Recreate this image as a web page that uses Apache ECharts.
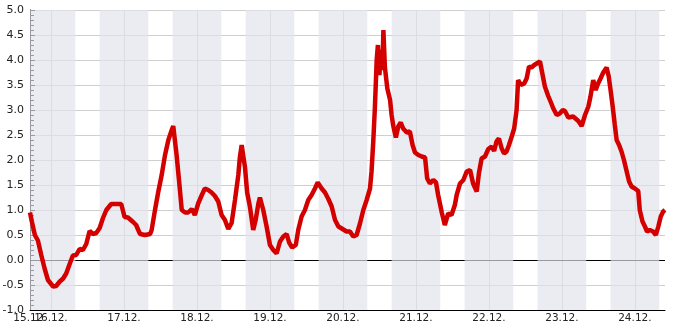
<!DOCTYPE html>
<html><head><meta charset="utf-8">
<script src="https://cdn.jsdelivr.net/npm/echarts@6/dist/echarts.min.js"></script>
<style>html,body{margin:0;padding:0;background:#fff}#c{width:685px;height:330px}</style>
</head><body><div id="c"></div>
<script>
// hours since 16.12. 00:00
const hours = [
-6.9,-6.3,-5.3,-4.3,-3.2,-2.1,-1.0,0.7,1.7,2.9,
4.0,5.0,6.2,7.2,8.3,9.4,10.5,11.6,12.7,13.8,
14.9,16.0,17.1,18.2,19.8,21.5,23.1,24.2,25.3,27.0,
28.0,28.7,29.3,30.9,32.6,33.1,34.2,35.3,36.4,37.5,
38.6,39.7,40.2,41.3,42.2,43.0,44.1,45.1,46.3,47.3,
48.4,49.6,50.6,51.7,52.8,53.9,55.0,56.1,57.2,58.3,
59.4,60.5,61.6,62.1,62.7,63.1,63.8,64.5,65.4,66.5,
67.3,68.2,68.7,69.8,70.9,72.0,73.1,74.2,75.3,76.4,
77.5,78.3,79.3,80.5,81.3,82.4,83.5,84.6,85.7,86.8,
87.7,89.0,90.1,91.2,92.3,93.4,94.5,95.6,97.2,98.3,
99.4,100.5,101.6,102.7,103.8,104.9,105.4,106.0,106.5,107.1,
107.5,108.0,108.5,109.0,109.3,109.8,110.6,111.5,112.0,112.5,
113.4,114.2,115.0,115.8,117.0,118.0,118.9,119.7,120.8,121.9,
123.0,123.7,124.6,125.7,126.6,127.3,128.5,129.5,130.6,131.7,
132.8,133.4,134.5,135.6,136.7,137.8,138.8,140.0,140.7,141.6,
142.7,143.8,144.9,145.7,146.5,147.3,148.2,149.0,149.8,150.6,
151.5,152.3,153.1,153.6,154.5,155.6,156.4,157.2,158.0,158.9,
159.7,160.8,161.5,162.4,163.5,164.6,165.1,166.3,167.3,168.3,
169.0,170.1,171.7,173.4,174.5,175.6,176.7,177.4,178.3,179.1,
179.9,180.7,181.6,182.7,183.4,184.0,184.7,185.4,186.0,186.8,
187.6,188.4,189.3,190.1,190.9,192.0,193.1,193.6,194.5,195.3,
196.0,196.9,198.0,198.9,199.7,200.5,201.3,201.9
];
const values = [
0.95,0.77,0.5,0.39,0.1,-0.17,-0.4,-0.53,-0.52,-0.43,
-0.37,-0.27,-0.07,0.09,0.1,0.22,0.2,0.32,0.58,0.52,
0.54,0.64,0.84,1.0,1.12,1.12,1.12,0.86,0.85,0.76,
0.7,0.6,0.52,0.5,0.52,0.6,1.0,1.37,1.7,2.1,
2.4,2.6,2.68,2.1,1.53,1.0,0.95,0.95,1.02,0.9,
1.13,1.3,1.43,1.4,1.35,1.28,1.17,0.9,0.8,0.62,
0.74,1.2,1.7,2.05,2.3,2.3,1.85,1.35,1.07,0.6,
0.8,1.13,1.25,1.0,0.67,0.3,0.2,0.13,0.37,0.47,
0.52,0.35,0.25,0.3,0.6,0.87,1.0,1.2,1.3,1.43,
1.55,1.43,1.35,1.22,1.07,0.8,0.67,0.63,0.57,0.57,
0.47,0.5,0.73,1.0,1.2,1.43,1.77,2.4,3.04,4.0,
4.3,3.7,4.2,3.8,4.6,3.85,3.43,3.2,2.9,2.7,
2.45,2.67,2.75,2.63,2.55,2.57,2.3,2.15,2.1,2.07,
2.05,1.63,1.53,1.6,1.55,1.3,0.95,0.7,0.93,0.9,
1.1,1.3,1.53,1.6,1.77,1.8,1.53,1.37,1.73,2.03,
2.07,2.22,2.27,2.18,2.37,2.43,2.23,2.13,2.17,2.3,
2.47,2.63,3.0,3.6,3.5,3.53,3.63,3.87,3.85,3.9,
3.93,3.97,3.75,3.47,3.28,3.12,3.04,2.9,2.93,3.0,
2.98,2.85,2.87,2.78,2.68,2.9,3.07,3.27,3.6,3.4,
3.53,3.63,3.75,3.85,3.67,3.4,3.07,2.7,2.4,2.3,
2.17,2.0,1.77,1.57,1.47,1.43,1.38,1.0,0.77,0.67,
0.57,0.6,0.57,0.5,0.67,0.87,0.97,1.0
];
const startHour = -6.9;
const endHour = 201.9;
const startLabel = '15.12.';
const dayTickHours = [0,24,48,72,96,120,144,168,192];
const dayLabels = ['16.12.','17.12.','18.12.','19.12.','20.12.','21.12.','22.12.','23.12.','24.12.'];
const nightBands = [[-8,8],[16,32],[40,56],[64,80],[88,104],[112,128],[136,152],[160,176],[184,200]];

const lineData = hours.map((h,i)=>[h, values[i]]);
const font = 'DejaVu Sans';
const labelStyle = {fontFamily:font,fontSize:10.5,color:'#222',margin:3,hideOverlap:false};

const chart = echarts.init(document.getElementById('c'), null, {renderer:'canvas'});
chart.setOption({
  animation:false,
  backgroundColor:'#fff',
  grid:{left:30,right:20,top:10,bottom:20,containLabel:false,outerBoundsMode:'none'},
  xAxis:[{
    type:'value', min:startHour, max:endHour, position:'bottom',
    axisLine:{show:true,onZero:false,lineStyle:{color:'#000',width:1}},
    axisTick:{show:true,inside:true,length:5,customValues:dayTickHours,lineStyle:{color:'#000'}},
    axisLabel:Object.assign({customValues:dayTickHours,
      formatter:function(v){ const i=dayTickHours.indexOf(v); return i>=0?dayLabels[i]:''; }}, labelStyle),
    splitLine:{show:false}
  },{
    type:'value', min:startHour, max:endHour, position:'bottom', offset:0,
    axisLine:{show:false}, axisTick:{show:false}, splitLine:{show:false},
    axisLabel:Object.assign({customValues:[startHour], showMinLabel:true,
      formatter:function(){ return startLabel; }}, labelStyle)
  }],
  yAxis:{
    type:'value', min:-1, max:5, interval:0.5,
    axisLine:{show:true,onZero:false,lineStyle:{color:'#000',width:1}},
    axisTick:{show:true,inside:true,length:5,lineStyle:{color:'#000'}},
    minorTick:{show:true,splitNumber:5,length:4,lineStyle:{color:'#000'}},
    axisLabel:{formatter:v=>v.toFixed(1),fontFamily:font,fontSize:11,color:'#222',margin:6},
    splitLine:{show:true,lineStyle:{color:'#cfcfcf',width:1}}
  },
  series:[
    {
      type:'line', data:lineData, z:1, silent:true, showSymbol:false,
      lineStyle:{opacity:0}, itemStyle:{opacity:0},
      markLine:{
        z:1, silent:true, symbol:['none','none'], label:{show:false}, animation:false,
        data: dayTickHours.map(h=>({xAxis:h, lineStyle:{color:'#cfcfcf',width:1,type:'solid'}}))
          .concat([{yAxis:0, lineStyle:{color:'#000',width:1,type:'solid'}}])
      }
    },
    {
      type:'line', data:lineData, z:2, silent:true, showSymbol:false,
      lineStyle:{opacity:0}, itemStyle:{opacity:0},
      markArea:{
        z:2, silent:true, animation:false,
        itemStyle:{color:'rgba(226,227,234,0.68)'},
        data: nightBands.map(b=>[{xAxis:Math.max(b[0],startHour)},{xAxis:Math.min(b[1],endHour)}])
      }
    },
    {
      type:'line', data:lineData, z:3, showSymbol:false, smooth:false,
      lineStyle:{color:'#d40000',width:4.5}, itemStyle:{color:'#d40000'}
    }
  ]
});
</script></body></html>
